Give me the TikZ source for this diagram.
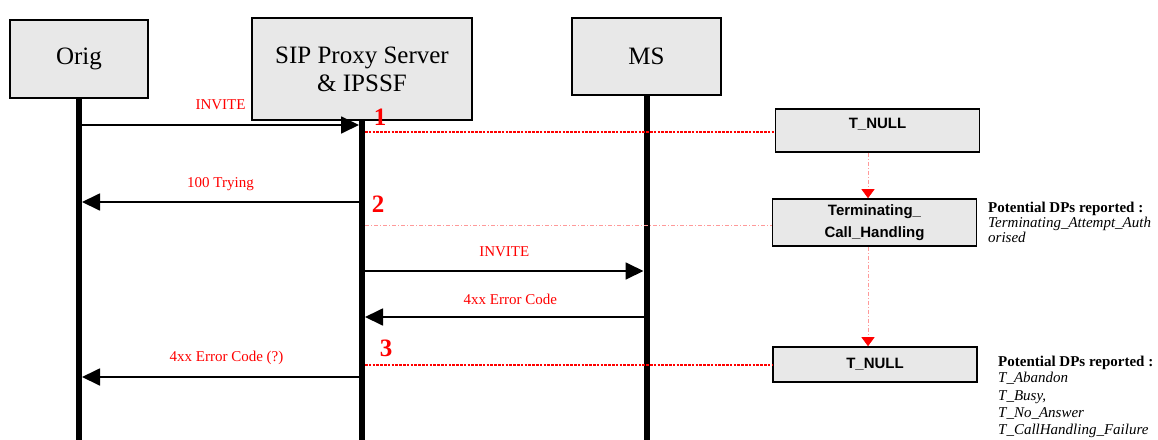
\documentclass[tikz,border=0pt]{standalone}
\usepackage{fontspec}
\setmainfont{Liberation Serif}
\setsansfont{Liberation Sans}
\usetikzlibrary{arrows.meta}

\definecolor{boxgray}{RGB}{232,232,232}

\tikzset{
	actor/.style={draw, line width=1.6pt, fill=boxgray, align=center, inner sep=0pt,
		font=\fontsize{25}{28}\selectfont},
	lifeline/.style={line width=6pt},
	msg/.style={line width=1.8pt, -{Triangle[length=18pt,width=17pt]}},
	msglabel/.style={red, font=\fontsize{15}{18}\selectfont, anchor=base, inner sep=0pt},
	stepno/.style={red, font=\bfseries\fontsize{25}{25}\selectfont, anchor=base, inner sep=0pt},
	state/.style={draw, line width=1.6pt, fill=boxgray, align=center, inner sep=0pt,
		minimum width=204pt, font=\sffamily\bfseries\fontsize{15}{22}\selectfont},
	dpline/.style={red, line width=2.6pt, dash pattern=on 2.6pt off 1.2pt},
	thinred/.style={red!40, line width=0.7pt, dash pattern=on 4pt off 2pt on 1pt off 2pt},
	statearrow/.style={thinred, -{Triangle[length=9pt,width=13pt,color=red]}},
	dptitle/.style={font=\bfseries\fontsize{15}{15}\selectfont, anchor=base west, inner sep=0pt},
	dpitem/.style={font=\itshape\fontsize{15}{15}\selectfont, anchor=base west, inner sep=0pt},
}

\begin{document}
\begin{tikzpicture}[x=1pt, y=-1pt]
	\useasboundingbox (0,0) rectangle (1158,439);
	\clip (0,0) rectangle (1158,439);
	
	% lifeline heads
	\node[actor, minimum width=138pt, minimum height=78pt] (orig) at (79,59) {Orig};
	\node[actor, minimum width=220pt, minimum height=102pt] (sip) at (362,69) {SIP Proxy Server\\\& IPSSF};
	\node[actor, minimum width=149pt, minimum height=77pt] (ms) at (646.5,56.5) {MS};
	
	\coordinate (bottom) at (0,445);
	\draw[lifeline] (orig.south) -- (orig.south |- bottom);
	\draw[lifeline] (sip.south) -- (sip.south |- bottom);
	\draw[lifeline] (ms.south) -- (ms.south |- bottom);
	
	% messages
	\coordinate (o1) at (82,125);  \coordinate (s1) at (359,125);
	\coordinate (s2) at (359,202); \coordinate (o2) at (82,202);
	\coordinate (s3) at (365,271); \coordinate (m3) at (643.5,271);
	\coordinate (m4) at (643.5,317); \coordinate (s4) at (365,317);
	\coordinate (s5) at (359,377); \coordinate (o5) at (82,377);
	
	\draw[msg] (o1) -- (s1) node[msglabel, midway, yshift=16pt] {INVITE};
	\draw[msg] (s2) -- (o2) node[msglabel, midway, yshift=15pt] {100 Trying};
	\draw[msg] (s3) -- (m3) node[msglabel, midway, yshift=15pt] {INVITE};
	\draw[msg] (m4) -- (s4) node[msglabel, midway, xshift=6pt, yshift=13pt] {4xx Error Code};
	\draw[msg] (s5) -- (o5) node[msglabel, midway, xshift=6pt, yshift=16pt] {4xx Error Code (?)};
	
	% states
	\node[state, minimum height=43pt, text height=11pt, text depth=16pt] (tnulla) at (877.5,130.5) {T\_NULL};
	\node[state, minimum height=47pt] (term) at (874.5,222.5) {Terminating\_\\Call\_Handling};
	\node[state, minimum height=35pt] (tnullb) at (875,364.5) {T\_NULL};
	
	\coordinate (stx) at (868,0);
	\draw[statearrow] (tnulla.south -| stx) -- (term.north -| stx);
	\draw[statearrow] (term.south -| stx) -- (tnullb.north -| stx);
	
	\coordinate (p1) at (365,132);
	\coordinate (p2) at (365,225);
	\coordinate (p3) at (365,365);
	\draw[dpline] (p1) -- (p1 -| tnulla.west);
	\draw[thinred] (p2) -- (p2 -| term.west);
	\draw[dpline] (p3) -- (p3 -| tnullb.west);
	
	\node[stepno] (no1) at (380,125) {1};
	\node[stepno] (no2) at (378,212) {2};
	\node[stepno] (no3) at (386,356) {3};
	
	% reported DPs
	\node[dptitle] (dpa) at (988,212) {Potential DPs reported :};
	\node[dpitem] (dpa1) at (988,227) {Terminating\_Attempt\_Auth};
	\node[dpitem] (dpa2) at (988,242) {orised};
	
	\node[dptitle] (dpb) at (998,366) {Potential DPs reported :};
	\node[dpitem] (dpb1) at (998,382) {T\_Abandon};
	\node[dpitem] (dpb2) at (998,400) {T\_Busy,};
	\node[dpitem] (dpb3) at (998,417) {T\_No\_Answer};
	\node[dpitem] (dpb4) at (998,434) {T\_CallHandling\_Failure};
\end{tikzpicture}
\end{document}
